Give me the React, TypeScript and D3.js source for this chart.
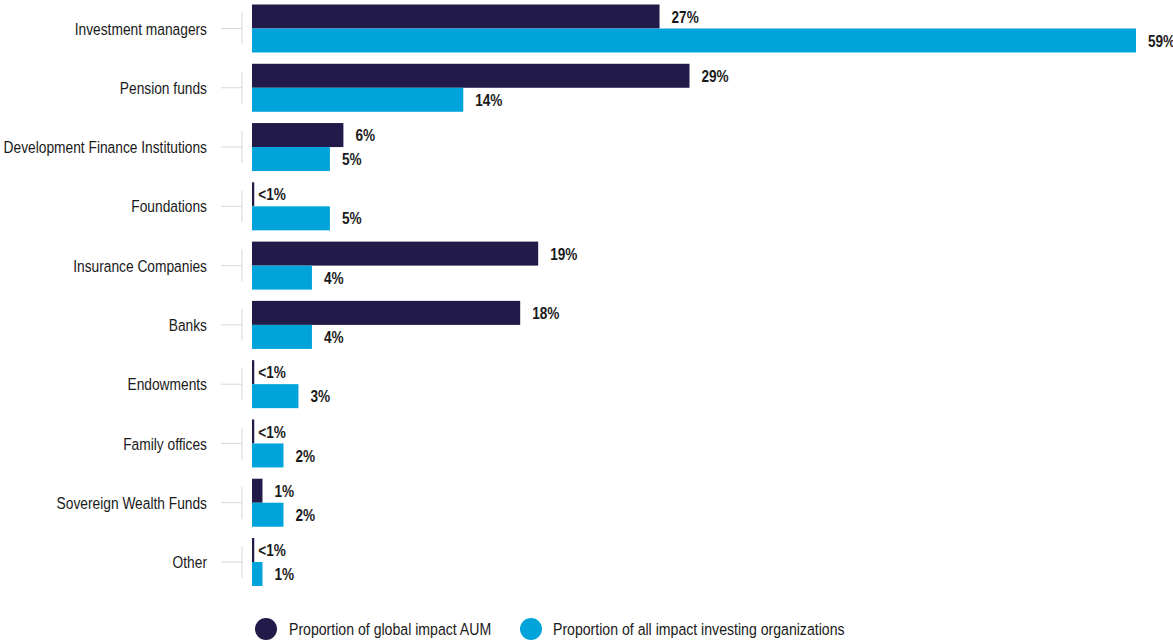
import React from "react";
import * as d3 from "d3";

const categories = [
  "Investment managers",
  "Pension funds",
  "Development Finance Institutions",
  "Foundations",
  "Insurance Companies",
  "Banks",
  "Endowments",
  "Family offices",
  "Sovereign Wealth Funds",
  "Other",
];
const aumValues = [27.2, 29.2, 6.1, 0.15, 19.1, 17.9, 0.15, 0.15, 0.7, 0.15];
const aumLabels = ["27%", "29%", "6%", "<1%", "19%", "18%", "<1%", "<1%", "1%", "<1%"];
const orgValues = [59, 14.1, 5.2, 5.2, 4, 4, 3.1, 2.1, 2.1, 0.7];
const orgLabels = ["59%", "14%", "5%", "5%", "4%", "4%", "3%", "2%", "2%", "1%"];
const seriesNames = ["Proportion of global impact AUM", "Proportion of all impact investing organizations"];

const W = 1173;
const H = 641;
const DARK = "#221a49";
const BLUE = "#00a3da";
const FONT = "'Liberation Sans', Arial, sans-serif";

function NarrowText({ x, y, sx, anchor, size, weight, children }: any) {
  return (
    <text
      transform={`translate(${x},${y}) scale(${sx},1)`}
      dy="0.36em"
      textAnchor={anchor || "start"}
      fontSize={size}
      fontWeight={weight || "normal"}
      fill="#1a1a1a"
    >
      {children}
    </text>
  );
}

export default function App() {
  const x = d3.scaleLinear().domain([0, 59]).range([252, 1136]);
  const y = d3.scalePoint<string>().domain(categories).range([28.5, 562]);
  const barH = 24;

  return (
    <div style={{ position: "absolute", left: 0, top: 0 }}>
      <svg width={W} height={H} style={{ display: "block", fontFamily: FONT }}>
        {categories.map((c, i) => {
          const cy = y(c) as number;
          const aEnd = x(aumValues[i]);
          const oEnd = x(orgValues[i]);
          const aOff = aumLabels[i].startsWith("<") ? 4 : 12;
          return (
            <g key={c}>
              <line x1={221} x2={242} y1={cy} y2={cy} stroke="#d5d9d9" strokeWidth={1} />
              <line x1={242} x2={242} y1={cy - 16} y2={cy + 16} stroke="#d5d9d9" strokeWidth={1} />
              <NarrowText x={207} y={cy} sx={0.81} anchor="end" size={17}>
                {c}
              </NarrowText>
              <rect x={x(0)} y={cy - barH} width={aEnd - x(0)} height={barH} fill={DARK} />
              <rect x={x(0)} y={cy} width={oEnd - x(0)} height={barH} fill={BLUE} />
              <NarrowText x={aEnd + aOff} y={cy - barH / 2} sx={0.8} size={17} weight="bold">
                {aumLabels[i]}
              </NarrowText>
              <NarrowText x={oEnd + 12} y={cy + barH / 2} sx={0.8} size={17} weight="bold">
                {orgLabels[i]}
              </NarrowText>
            </g>
          );
        })}
        <g>
          <circle cx={266} cy={629} r={11} fill={DARK} />
          <NarrowText x={289} y={629} sx={0.83} size={17}>
            {seriesNames[0]}
          </NarrowText>
          <circle cx={531} cy={629} r={11} fill={BLUE} />
          <NarrowText x={553} y={629} sx={0.83} size={17}>
            {seriesNames[1]}
          </NarrowText>
        </g>
      </svg>
    </div>
  );
}
